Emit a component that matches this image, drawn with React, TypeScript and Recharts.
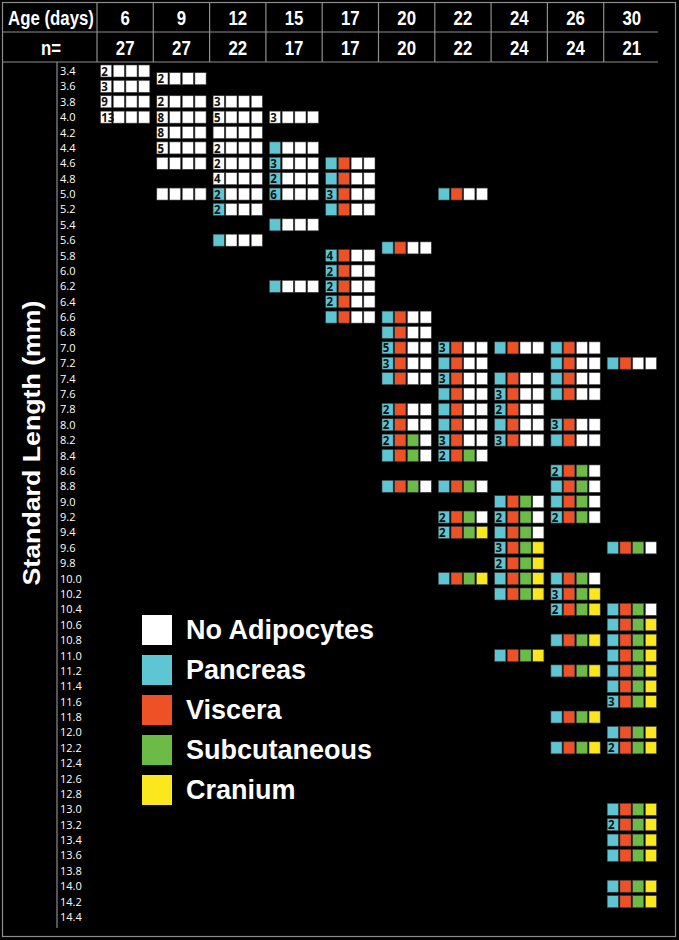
import React from 'react';
import { ScatterChart, Scatter, XAxis, YAxis, Legend } from 'recharts';

const ages = [6, 9, 12, 15, 17, 20, 22, 24, 26, 30];
const sampleSizes = [27, 27, 22, 17, 17, 20, 22, 24, 24, 21];

const depots = ['No Adipocytes', 'Pancreas', 'Viscera', 'Subcutaneous', 'Cranium'];
const depotColors = ['#ffffff', '#5ec5d3', '#ee5126', '#6cbb46', '#fae71d'];

const lengthTicks = [
  3.4, 3.6, 3.8, 4.0, 4.2, 4.4, 4.6, 4.8, 5.0, 5.2, 5.4, 5.6, 5.8, 6.0,
  6.2, 6.4, 6.6, 6.8, 7.0, 7.2, 7.4, 7.6, 7.8, 8.0, 8.2, 8.4, 8.6, 8.8,
  9.0, 9.2, 9.4, 9.6, 9.8, 10.0, 10.2, 10.4, 10.6, 10.8, 11.0, 11.2, 11.4,
  11.6, 11.8, 12.0, 12.2, 12.4, 12.6, 12.8, 13.0, 13.2, 13.4, 13.6, 13.8,
  14.0, 14.2, 14.4,
];

// [standard length (mm), number of depots with adipocytes, fish count]
const day6 = [[3.4, 0, 2], [3.6, 0, 3], [3.8, 0, 9], [4.0, 0, 13]];
const day9 = [[3.5, 0, 2], [3.8, 0, 2], [4.0, 0, 8], [4.2, 0, 8], [4.4, 0, 5], [4.6, 0, 1], [5.0, 0, 1]];
const day12 = [[3.8, 0, 3], [4.0, 0, 5], [4.2, 0, 1], [4.4, 0, 2], [4.6, 0, 2], [4.8, 0, 4], [5.0, 1, 2], [5.2, 1, 2], [5.6, 1, 1]];
const day15 = [[4.0, 0, 3], [4.4, 1, 1], [4.6, 1, 3], [4.8, 1, 2], [5.0, 1, 6], [5.4, 1, 1], [6.2, 1, 1]];
const day17 = [[4.6, 2, 1], [4.8, 2, 1], [5.0, 2, 3], [5.2, 2, 1], [5.8, 2, 4], [6.0, 2, 2], [6.2, 2, 2], [6.4, 2, 2], [6.6, 2, 1]];
const day20 = [[5.7, 2, 1], [6.6, 2, 1], [6.8, 2, 1], [7.0, 2, 5], [7.2, 2, 3], [7.4, 2, 1], [7.8, 2, 2], [8.0, 2, 2], [8.2, 3, 2], [8.4, 3, 1], [8.8, 3, 1]];
const day22 = [[5.0, 2, 1], [7.0, 2, 3], [7.2, 2, 1], [7.4, 2, 3], [7.6, 2, 1], [7.8, 2, 1], [8.0, 2, 1], [8.2, 2, 3], [8.4, 3, 2], [8.8, 3, 1], [9.2, 3, 2], [9.4, 4, 2], [10.0, 4, 1]];
const day24 = [[7.0, 2, 1], [7.4, 2, 1], [7.6, 2, 3], [7.8, 2, 2], [8.0, 2, 1], [8.2, 2, 3], [9.0, 3, 1], [9.2, 3, 2], [9.4, 3, 1], [9.6, 4, 3], [9.8, 4, 2], [10.0, 4, 1], [10.2, 4, 1], [11.0, 4, 1]];
const day26 = [[7.0, 2, 1], [7.2, 2, 1], [7.4, 2, 1], [7.6, 2, 1], [8.0, 2, 3], [8.2, 2, 1], [8.6, 3, 2], [8.8, 3, 1], [9.0, 3, 1], [9.2, 3, 2], [10.0, 3, 1], [10.2, 4, 3], [10.4, 4, 2], [10.8, 4, 1], [11.2, 4, 1], [11.8, 4, 1], [12.2, 4, 1]];
const day30 = [[7.2, 2, 1], [9.6, 3, 1], [10.4, 3, 1], [10.6, 4, 1], [10.8, 4, 1], [11.0, 4, 1], [11.2, 4, 1], [11.4, 4, 1], [11.6, 4, 3], [12.0, 4, 1], [12.2, 4, 2], [13.0, 4, 1], [13.2, 4, 2], [13.4, 4, 1], [13.6, 4, 1], [14.0, 4, 1], [14.2, 4, 1]];

const byAge = [day6, day9, day12, day15, day17, day20, day22, day24, day26, day30];

const points = byAge.flatMap((rows, col) =>
  rows.map(([sl, stage, count]) => ({ col, sl, stage, count }))
);

const W = 679;
const H = 940;
const COL_W = 56.3;
const BOX_W = 11.2;
const BOX_H = 12;
const BOX_GAP = 1.5;
const LINE = '#8d8d8d';
const boldFont = "'Liberation Sans', Arial, sans-serif";

// condensed bold white text, like the narrow face of the original figure
const NarrowText = ({ x, y, size = 21, children }: any) => (
  <text
    transform={`translate(${x},${y}) scale(0.8,1)`}
    textAnchor="middle"
    fill="#fff"
    fontSize={size}
    fontWeight={700}
    fontFamily={boldFont}
  >
    {children}
  </text>
);

const FishCell = (props: any) => {
  const { cx, cy, payload } = props;
  if (cx == null || cy == null) return null;
  const total = 4 * BOX_W + 3 * BOX_GAP;
  const left = cx - total / 2;
  return (
    <g>
      {[1, 2, 3, 4].map((d, i) => (
        <rect
          key={d}
          x={left + i * (BOX_W + BOX_GAP)}
          y={cy - BOX_H / 2}
          width={BOX_W}
          height={BOX_H}
          fill={payload.stage >= d ? depotColors[d] : depotColors[0]}
          stroke="#3c3c3c"
          strokeWidth={0.6}
        />
      ))}
      {payload.count > 1 && (
        <text x={left + 0.8} y={cy + 4.6} fontSize={11.5} fontWeight={700}
          fontFamily="'Open Sans', sans-serif" fill="#111">
          {payload.count}
        </text>
      )}
    </g>
  );
};

const HeaderTick = (props: any) => {
  const { x, payload } = props;
  const i = payload.value;
  return (
    <g>
      <line x1={x - COL_W / 2} x2={x - COL_W / 2} y1={3} y2={62} stroke={LINE} strokeWidth={1.2} />
      <NarrowText x={x} y={25}>{ages[i]}</NarrowText>
      <NarrowText x={x} y={55}>{sampleSizes[i]}</NarrowText>
    </g>
  );
};

const LengthTick = (props: any) => {
  const { y, payload } = props;
  return (
    <text x={60} y={y + 4} fill="#fff" fontSize={11} fontFamily="'Open Sans', sans-serif">
      {Number(payload.value).toFixed(1)}
    </text>
  );
};

const DepotLegend = () => (
  <div>
    {depots.map((name, i) => (
      <div key={name} style={{ display: 'flex', alignItems: 'center', height: 40 }}>
        <div style={{ width: 30, height: 30, background: depotColors[i], marginRight: 14 }} />
        <span style={{ color: '#fff', fontSize: 27, fontWeight: 700, fontFamily: boldFont }}>
          {name}
        </span>
      </div>
    ))}
  </div>
);

export default function App() {
  return (
    <div style={{ position: 'absolute', left: 0, top: 0, width: W, height: H, background: '#000' }}>
      <ScatterChart width={W} height={H} margin={{ top: 5, right: 19, bottom: 23, left: 0 }}>
        <XAxis
          type="number"
          dataKey="col"
          orientation="top"
          domain={[-0.5, 9.5]}
          ticks={ages.map((_, i) => i)}
          interval={0}
          height={66}
          axisLine={false}
          tickLine={false}
          tick={<HeaderTick />}
        />
        <YAxis
          type="number"
          dataKey="sl"
          domain={[3.4, 14.4]}
          reversed
          ticks={lengthTicks}
          interval={0}
          width={97}
          axisLine={false}
          tickLine={false}
          tick={<LengthTick />}
        />
        <Legend
          layout="horizontal"
          verticalAlign="middle"
          align="center"
          content={() => <DepotLegend />}
          wrapperStyle={{ position: 'absolute', left: 142, top: 610, width: 320 }}
        />
        <Scatter data={points} shape={<FishCell />} isAnimationActive={false} />
      </ScatterChart>
      <svg width={W} height={H} style={{ position: 'absolute', left: 0, top: 0, pointerEvents: 'none' }}>
        <rect x={2.5} y={2.5} width={673} height={934} fill="none" stroke={LINE} strokeWidth={1.2} />
        <line x1={3} x2={658} y1={32} y2={32} stroke={LINE} strokeWidth={1.2} />
        <line x1={3} x2={658} y1={62} y2={62} stroke={LINE} strokeWidth={1.2} />
        <line x1={57} x2={57} y1={62} y2={928} stroke={LINE} strokeWidth={1.2} />
        <NarrowText x={51} y={25}>Age (days)</NarrowText>
        <NarrowText x={51} y={55}>n=</NarrowText>
        <text
          transform="translate(40,443) rotate(-90)"
          textAnchor="middle"
          fill="#fff"
          fontSize={23}
          fontWeight={700}
          fontFamily={boldFont}
          textLength={285}
          lengthAdjust="spacingAndGlyphs"
        >
          Standard Length (mm)
        </text>
      </svg>
    </div>
  );
}
